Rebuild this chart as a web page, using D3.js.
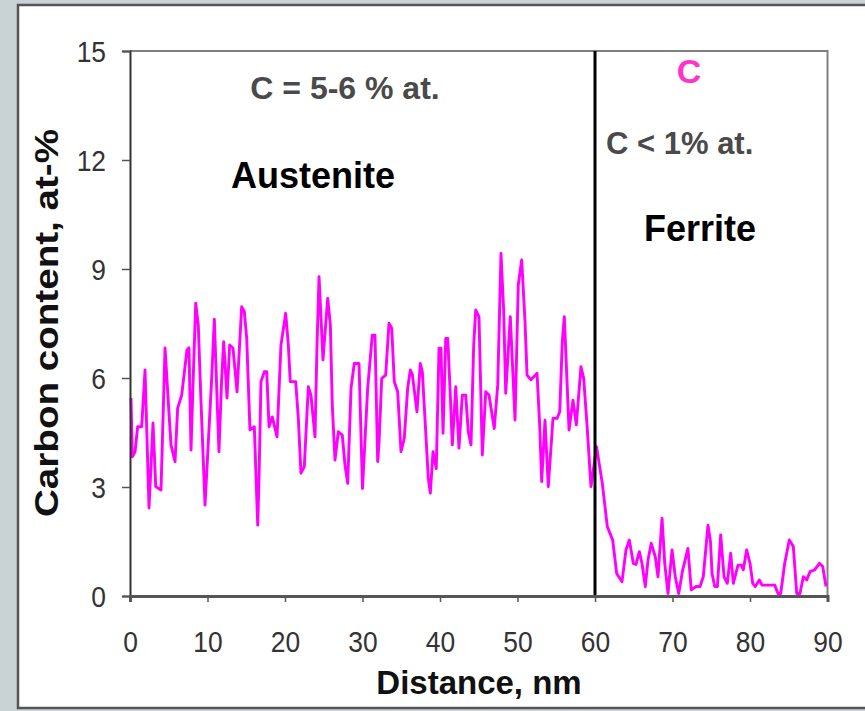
<!DOCTYPE html>
<html>
<head>
<meta charset="utf-8">
<script src="https://cdn.jsdelivr.net/npm/d3@7"></script>
<style>
  html, body { margin: 0; padding: 0; background: #c9d3d6; }
  svg { display: block; }
  text { font-family: "Liberation Sans", Arial, sans-serif; }
</style>
</head>
<body>
<div id="chart"></div>
<script>
// distance along the profile (nm)
const distance = [
  0.13, 0.30, 0.65, 0.99, 1.51, 1.94, 2.45, 2.97, 3.32, 4.00, 4.52, 4.94, 5.29, 5.81, 6.15, 6.67,
  7.35, 7.61, 7.87, 8.13, 8.48, 8.81, 9.16, 9.68, 10.54, 10.88, 11.48, 11.83, 12.09, 12.52, 12.86,
  13.29, 13.81, 14.41, 14.75, 15.06, 15.35, 15.48, 16.04, 16.48, 16.65, 16.90, 17.33, 17.64, 17.94,
  18.36, 18.97, 19.48, 20.09, 20.43, 20.68, 21.38, 21.72, 22.06, 22.49, 23.01, 23.35, 23.87, 24.13,
  24.39, 24.65, 24.90, 25.51, 25.85, 26.10, 26.45, 26.88, 27.39, 27.74, 28.09, 28.52, 28.94, 29.55,
  30.00, 30.67, 31.26, 31.61, 31.96, 32.13, 32.48, 32.99, 33.42, 33.77, 34.10, 34.54, 34.97, 35.39,
  35.83, 36.17, 36.43, 37.03, 37.46, 37.72, 38.06, 38.49, 38.75, 39.10, 39.52, 39.87, 40.13, 40.39,
  40.74, 41.00, 41.33, 41.59, 42.03, 42.45, 42.88, 43.32, 43.65, 44.00, 44.35, 44.61, 45.03, 45.46,
  45.90, 46.32, 47.00, 47.45, 47.87, 48.22, 48.48, 49.07, 49.68, 50.10, 50.54, 50.97, 51.23, 51.74,
  52.52, 52.86, 53.12, 53.55, 53.97, 54.58, 55.10, 55.45, 55.78, 56.04, 56.30, 56.65, 57.16, 57.59,
  58.19, 58.54, 58.97, 59.48, 59.74, 60.20, 60.94, 61.59, 62.28, 62.80, 63.48, 64.00, 64.43, 64.94,
  65.29, 65.72, 66.06, 66.49, 66.84, 67.26, 67.78, 68.13, 68.65, 69.00, 69.42, 69.94, 70.36, 70.80,
  71.30, 71.99, 72.42, 73.03, 73.55, 73.97, 74.58, 74.90, 75.10, 75.45, 75.79, 76.22, 76.65, 77.07,
  77.51, 77.85, 78.45, 78.88, 79.14, 79.57, 80.00, 80.35, 80.68, 81.20, 81.55, 83.19, 83.61, 83.96,
  84.48, 85.07, 85.59, 86.03, 86.45, 86.88, 87.32, 87.74, 88.35, 88.95, 89.38, 89.81
];
// carbon content (at-%)
const carbon = [
  5.45, 3.83, 3.97, 4.66, 4.66, 6.22, 2.42, 4.76, 3.01, 2.92, 6.83, 5.35, 4.16, 3.70, 5.17, 5.53,
  6.77, 6.83, 4.02, 5.81, 8.06, 7.46, 5.35, 2.50, 5.99, 7.62, 3.97, 5.99, 7.00, 5.45, 6.91,
  6.82, 5.62, 7.96, 7.83, 7.09, 5.35, 4.57, 4.66, 1.95, 3.25, 5.90, 6.17, 6.17, 4.66,
  4.93, 4.38, 6.91, 7.78, 6.91, 5.90, 5.90, 4.89, 3.38, 3.56, 5.76, 5.53, 4.38, 6.91,
  8.79, 7.64, 6.50, 8.19, 7.46, 5.26, 3.74, 4.52, 4.43, 3.61, 3.10, 5.72, 6.40, 6.40,
  2.96, 5.72, 7.18, 7.18, 3.70, 4.20, 5.99, 6.08, 7.51, 7.37, 5.90, 5.62, 3.97, 4.34,
  5.72, 6.22, 6.10, 5.07, 6.40, 6.17, 4.89, 3.24, 2.83, 3.97, 3.51, 6.82, 6.82, 4.48,
  7.09, 7.09, 5.53, 4.16, 5.76, 4.07, 5.53, 5.53, 4.52, 4.16, 6.91, 7.87, 7.69, 3.88,
  5.62, 5.53, 4.61, 5.81, 9.43, 7.83, 5.58, 7.69, 4.84, 8.56, 9.25, 7.55, 6.08, 5.95,
  6.13, 4.71, 3.15, 4.84, 3.01, 4.89, 4.89, 5.07, 7.00, 7.69, 6.36, 4.57, 5.39, 4.71,
  6.31, 5.99, 4.71, 3.01, 3.40, 4.11, 3.10, 1.91, 1.54, 0.62, 0.39, 1.27, 1.54, 0.90,
  0.87, 1.22, 0.90, 0.26, 0.99, 1.45, 1.08, 0.53, 2.14, 0.90, 0.07, 1.27, 0.53, 0.07,
  0.70, 1.31, 0.17, 0.26, 0.26, 0.53, 1.95, 1.50, 0.62, 0.26, 0.26, 1.68, 0.53, 0.35,
  1.18, 0.35, 0.85, 0.85, 0.72, 1.27, 0.90, 0.35, 0.26, 0.44, 0.30, 0.30, 0.07, 0.07,
  0.90, 1.54, 1.36, 0.07, 0.07, 0.53, 0.44, 0.67, 0.72, 0.90, 0.81, 0.26
];
const xTicks = [0, 10, 20, 30, 40, 50, 60, 70, 80, 90];
const yTicks = [0, 3, 6, 9, 12, 15];
const boundaryNm = 60;

const W = 865, H = 711;
const svg = d3.select('#chart').append('svg')
  .attr('width', W).attr('height', H);

// slide panel
svg.append('rect')
  .attr('x', 18).attr('y', 5).attr('width', W).attr('height', 703)
  .attr('fill', '#fff').attr('stroke', '#555').attr('stroke-width', 2.5);

const x = d3.scaleLinear().domain([0, 90]).range([130, 827.5]);
const y = d3.scaleLinear().domain([0, 15]).range([596, 51]);

// top / right frame of plot area
svg.append('path')
  .attr('d', `M${x(0)},${y(15)}H${x(90)}V${y(0)}`)
  .attr('fill', 'none').attr('stroke', '#808080').attr('stroke-width', 2);

// the profile line
const line = d3.line()
  .x((d, i) => x(distance[i]))
  .y(d => y(d));

svg.append('path')
  .datum(carbon)
  .attr('d', line)
  .attr('fill', 'none')
  .attr('stroke', '#ff00ff')
  .attr('stroke-width', 2.9)
  .attr('stroke-linejoin', 'round');

// austenite / ferrite boundary
svg.append('line')
  .attr('x1', x(boundaryNm)).attr('x2', x(boundaryNm))
  .attr('y1', y(15)).attr('y2', y(0))
  .attr('stroke', '#000').attr('stroke-width', 3);

// axes
const yAxis = svg.append('g')
  .attr('transform', `translate(${x(0)},0)`)
  .call(d3.axisLeft(y).tickValues(yTicks).tickSize(8).tickPadding(16));
yAxis.select('.domain').attr('stroke', '#333').attr('stroke-width', 2);
yAxis.selectAll('.tick line').attr('stroke', '#555').attr('stroke-width', 1.5);
yAxis.selectAll('.tick text')
  .attr('font-size', 30).attr('fill', '#333')
  .attr('transform', 'scale(0.88,1)')
  .attr('x', -24 / 0.88).attr('dy', '0.36em');

const xAxis = svg.append('g')
  .attr('transform', `translate(0,${y(0)})`)
  .call(d3.axisBottom(x).tickValues(xTicks).tickSize(6));
xAxis.select('.domain').attr('stroke', '#555').attr('stroke-width', 3);
xAxis.selectAll('.tick line').attr('stroke', '#555').attr('stroke-width', 1.5);
xAxis.selectAll('.tick text')
  .attr('font-size', 30).attr('fill', '#333')
  .attr('transform', 'scale(0.88,1)')
  .attr('y', 56).attr('dy', null);

// axis titles
svg.append('text')
  .attr('x', 479).attr('y', 694)
  .attr('text-anchor', 'middle')
  .attr('font-size', 33).attr('font-weight', 'bold').attr('fill', '#111')
  .text('Distance, nm');

svg.append('text')
  .attr('transform', 'translate(58,323) rotate(-90)')
  .attr('text-anchor', 'middle')
  .attr('font-size', 34).attr('font-weight', 'bold').attr('fill', '#111')
  .attr('textLength', 388).attr('lengthAdjust', 'spacingAndGlyphs')
  .text('Carbon content, at-%');

// annotations
const notes = [
  { t: 'C = 5-6 % at.', x: 345, y: 99, size: 32, fill: '#4a4a4a', anchor: 'middle' },
  { t: 'Austenite', x: 313, y: 188, size: 36, fill: '#000', anchor: 'middle' },
  { t: 'C', x: 689, y: 83, size: 34, fill: '#ff33cc', anchor: 'middle' },
  { t: 'C < 1% at.', x: 606, y: 154, size: 31, fill: '#4a4a4a', anchor: 'start' },
  { t: 'Ferrite', x: 700, y: 241, size: 36, fill: '#000', anchor: 'middle' }
];
svg.selectAll('text.note').data(notes).enter()
  .append('text')
  .attr('class', 'note')
  .attr('x', d => d.x).attr('y', d => d.y)
  .attr('text-anchor', d => d.anchor)
  .attr('font-size', d => d.size)
  .attr('font-weight', 'bold')
  .attr('fill', d => d.fill)
  .text(d => d.t);
</script>
</body>
</html>
